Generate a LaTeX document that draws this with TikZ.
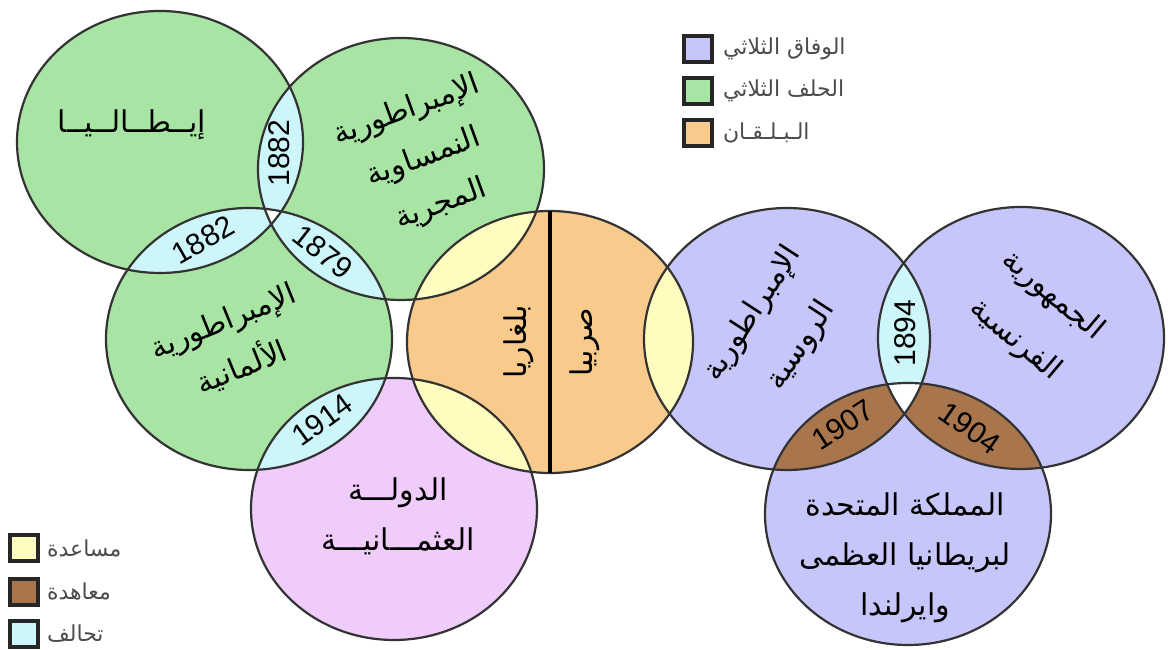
\documentclass[tikz,border=0pt]{standalone}
\usepackage{fontspec}
\setmainfont{Liberation Sans}
\newfontfamily\arabicfont[Script=Arabic]{DejaVu Sans}
\TeXXeTstate=1
\definecolor{alliance}{HTML}{A8E4A4}
\definecolor{entente}{HTML}{C6C6FA}
\definecolor{balkan}{HTML}{F8CA8C}
\definecolor{ottoman}{HTML}{F0CCFA}
\definecolor{aid}{HTML}{FFFCC0}
\definecolor{treaty}{HTML}{A8754C}
\definecolor{pact}{HTML}{CCF6FA}
\tikzset{
    every node/.style={align=center,},
    bloc/.style={x radius=143, y radius=131,},
    rim/.style={draw=black!80, line width=1.1pt,},
    country/.style={font=\arabicfont\fontsize{15}{25}\selectfont,},
    widecountry/.style={font=\arabicfont\fontsize{15}{29}\selectfont,},
    yearlabel/.style={font=\fontsize{15}{18}\selectfont, inner sep=0pt,},
    legbox/.style={draw=black!85, line width=1.6pt, minimum width=14pt, minimum height=13pt, inner sep=0pt,},
    legtext/.style={font=\arabicfont\fontsize{11}{13}\selectfont, text=black!70, anchor=west,},
}

\begin{document}
\begin{tikzpicture}[x=0.5pt, y=-0.5pt]
        \fill[white] (0,0) rectangle (1169,648);

        \coordinate (italy) at (160, 142);
        \coordinate (austria) at (401, 169);
        \coordinate (germany) at (249, 339);
        \coordinate (ottoman) at (394, 509);
        \coordinate (balkans) at (550, 342);
        \coordinate (russia) at (787, 339);
        \coordinate (france) at (1021, 338);
        \coordinate (uk) at (908, 514);

        \fill[alliance] (italy) ellipse [bloc];
        \fill[alliance] (austria) ellipse [bloc];
        \fill[alliance] (germany) ellipse [bloc];
        \fill[ottoman] (ottoman) ellipse [bloc];
        \fill[balkan] (balkans) ellipse [bloc];
        \fill[entente] (russia) ellipse [bloc];
        \fill[entente] (france) ellipse [bloc];
        \fill[entente] (uk) ellipse [bloc];

        % overlaps
        \begin{scope}
            \clip (italy) ellipse [bloc];
            \fill[pact] (austria) ellipse [bloc];
            \fill[pact] (germany) ellipse [bloc];
        \end{scope}
        \begin{scope}
            \clip (austria) ellipse [bloc];
            \fill[pact] (germany) ellipse [bloc];
            \fill[aid] (balkans) ellipse [bloc];
        \end{scope}
        \begin{scope}
            \clip (ottoman) ellipse [bloc];
            \fill[pact] (germany) ellipse [bloc];
            \fill[aid] (balkans) ellipse [bloc];
        \end{scope}
        \begin{scope}
            \clip (russia) ellipse [bloc];
            \fill[aid] (balkans) ellipse [bloc];
            \fill[pact] (france) ellipse [bloc];
            \fill[treaty] (uk) ellipse [bloc];
        \end{scope}
        \begin{scope}
            \clip (france) ellipse [bloc];
            \fill[treaty] (uk) ellipse [bloc];
        \end{scope}
        \begin{scope}
            \clip (italy) ellipse [bloc];
            \clip (austria) ellipse [bloc];
            \fill[white] (germany) ellipse [bloc];
        \end{scope}
        \begin{scope}
            \clip (russia) ellipse [bloc];
            \clip (france) ellipse [bloc];
            \fill[white] (uk) ellipse [bloc];
        \end{scope}

        \draw[rim] (italy) ellipse [bloc];
        \draw[rim] (austria) ellipse [bloc];
        \draw[rim] (germany) ellipse [bloc];
        \draw[rim] (ottoman) ellipse [bloc];
        \draw[rim] (balkans) ellipse [bloc];
        \draw[rim] (russia) ellipse [bloc];
        \draw[rim] (france) ellipse [bloc];
        \draw[rim] (uk) ellipse [bloc];

        \coordinate (balkans_top) at (550, 211);
        \coordinate (balkans_bottom) at (550, 473);
        \draw[line width=1.6pt] (balkans_top) to (balkans_bottom);

        % names
        \node[country] (italy_name) at (132, 125) {\beginR إيــطــالــيــا\endR};
        \node[country, rotate=20] (austria_name) at (424, 158) {\beginR الإمبراطورية\endR\\\beginR النمساوية\endR\\\beginR المجرية\endR};
        \node[country, rotate=22] (germany_name) at (233, 345) {\beginR الإمبراطورية\endR\\\beginR الألمانية\endR};
        \node[country] (ottoman_name) at (398, 516) {\beginR الدولـــة\endR\\\beginR العثمـــانيـــة\endR};
        \node[country, rotate=90] (bulgaria_name) at (519, 342) {\beginR بلغاريا\endR};
        \node[country, rotate=90] (serbia_name) at (585, 342) {\beginR صربيا\endR};
        \node[widecountry, rotate=57] (russia_name) at (777, 330) {\beginR الإمبراطورية\endR\\\beginR الروسية\endR};
        \node[widecountry, rotate=-40] (france_name) at (1034, 318) {\beginR الجمهورية\endR\\\beginR الفرنسية\endR};
        \node[country] (uk_name) at (905, 558) {\beginR المملكة المتحدة\endR\\\beginR لبريطانيا العظمى\endR\\\beginR وايرلندا\endR};

        % years
        \node[yearlabel, rotate=90] (italy_austria) at (279, 153) {1882};
        \node[yearlabel, rotate=30] (italy_germany) at (203, 240) {1882};
        \node[yearlabel, rotate=-38] (austria_germany) at (323, 252) {1879};
        \node[yearlabel, rotate=36] (germany_ottoman) at (322, 420) {1914};
        \node[yearlabel, rotate=90] (russia_france) at (905, 333) {1894};
        \node[yearlabel, rotate=33] (russia_uk) at (843, 425) {1907};
        \node[yearlabel, rotate=-35] (france_uk) at (970, 428) {1904};

        % legend
        \node[legbox, fill=entente] (key_entente) at (698, 49) {};
        \node[legbox, fill=alliance] (key_alliance) at (698, 91) {};
        \node[legbox, fill=balkan] (key_balkan) at (698, 133) {};
        \node[legtext] (text_entente) at (716, 49) {\beginR الوفاق الثلاثي\endR};
        \node[legtext] (text_alliance) at (716, 91) {\beginR الحلف الثلاثي\endR};
        \node[legtext] (text_balkan) at (716, 133) {\beginR الـبـلـقـان\endR};

        \node[legbox, fill=aid] (key_aid) at (24, 548) {};
        \node[legbox, fill=treaty] (key_treaty) at (24, 592) {};
        \node[legbox, fill=pact] (key_pact) at (24, 634) {};
        \node[legtext] (text_aid) at (40, 548) {\beginR مساعدة\endR};
        \node[legtext] (text_treaty) at (40, 592) {\beginR معاهدة\endR};
        \node[legtext] (text_pact) at (40, 634) {\beginR تحالف\endR};
    \end{tikzpicture}
\end{document}
